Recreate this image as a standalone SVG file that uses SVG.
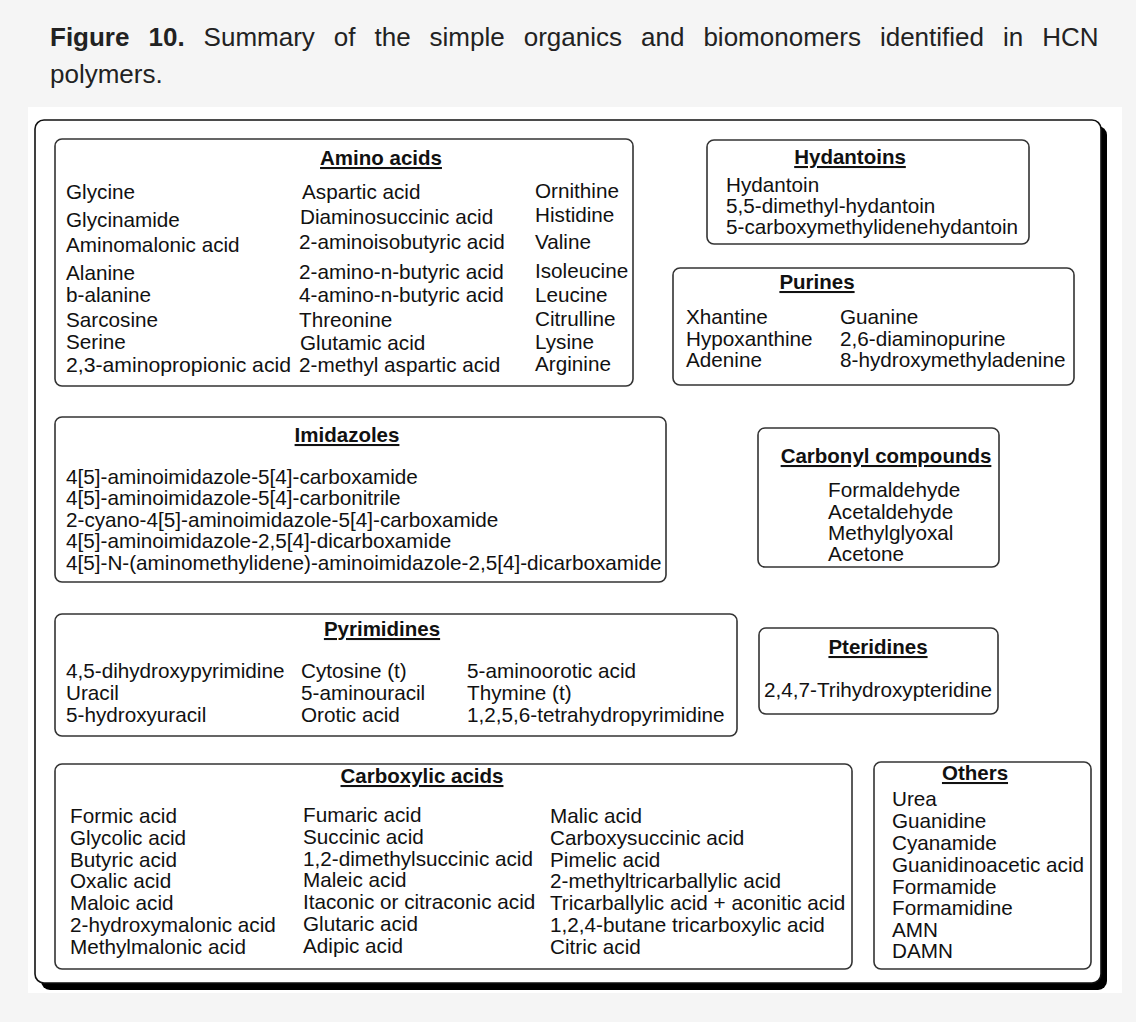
<svg xmlns="http://www.w3.org/2000/svg" width="1136" height="1022" viewBox="0 0 1136 1022">
  <style>
    .cap { font-family: "Liberation Sans", Arial, sans-serif; font-size: 26px; fill: #222; }
    .capb { font-weight: bold; }
    .t { font-family: "Liberation Sans", Arial, sans-serif; font-size: 20.7px; fill: #111; }
    .h { font-family: "Liberation Sans", Arial, sans-serif; font-size: 20.5px; font-weight: bold; fill: #111; text-anchor: middle; text-decoration: underline; }
    .box { fill: #fff; stroke: #333; stroke-width: 1.6; }
  </style>

  <!-- page background and white figure panel -->
  <rect x="0" y="0" width="1136" height="1022" fill="#f5f5f5"/>
  <rect x="28" y="107" width="1094" height="886" fill="#fff"/>

  <!-- caption, words spread to a justified line -->
  <g id="caption">
    <text class="cap" y="46">
      <tspan x="50" class="capb">Figure</tspan><tspan x="148.5" class="capb">10.</tspan><tspan x="203.6">Summary</tspan><tspan x="333.8">of</tspan><tspan x="374.5">the</tspan><tspan x="429.6">simple</tspan><tspan x="523.7">organics</tspan><tspan x="641">and</tspan><tspan x="703.4">biomonomers</tspan><tspan x="879.9">identified</tspan><tspan x="1003">in</tspan><tspan x="1042.2">HCN</tspan>
    </text>
    <text class="cap" x="50" y="83">polymers.</text>
  </g>

  <!-- outer frame with drop shadow -->
  <g id="frame">
    <rect x="41" y="126" width="1066" height="864" rx="9" fill="#000"/>
    <rect x="35" y="120" width="1066" height="863" rx="9" fill="#fff" stroke="#111" stroke-width="1.6"/>
  </g>

  <g id="amino-acids">
    <rect class="box" x="55" y="139" width="578" height="247" rx="7"/>
    <text class="h" x="381" y="165">Amino acids</text>
    <text class="t">
      <tspan x="66" y="199">Glycine</tspan>
      <tspan x="66" y="227">Glycinamide</tspan>
      <tspan x="66" y="252">Aminomalonic acid</tspan>
      <tspan x="66" y="280">Alanine</tspan>
      <tspan x="66" y="302">b-alanine</tspan>
      <tspan x="66" y="327">Sarcosine</tspan>
      <tspan x="66" y="349">Serine</tspan>
    </text>
    <text class="t" x="66" y="372" textLength="225" lengthAdjust="spacingAndGlyphs">2,3-aminopropionic acid</text>
    <text class="t">
      <tspan x="302" y="199">Aspartic acid</tspan>
      <tspan x="300" y="224">Diaminosuccinic acid</tspan>
      <tspan x="299" y="249">2-aminoisobutyric acid</tspan>
      <tspan x="299" y="279">2-amino-n-butyric acid</tspan>
      <tspan x="299" y="302">4-amino-n-butyric acid</tspan>
      <tspan x="299" y="327">Threonine</tspan>
      <tspan x="300" y="350">Glutamic acid</tspan>
      <tspan x="299" y="372">2-methyl aspartic acid</tspan>
    </text>
    <text class="t">
      <tspan x="535" y="198">Ornithine</tspan>
      <tspan x="535" y="222">Histidine</tspan>
      <tspan x="535" y="249">Valine</tspan>
      <tspan x="535" y="278">Isoleucine</tspan>
      <tspan x="535" y="302">Leucine</tspan>
      <tspan x="535" y="326">Citrulline</tspan>
      <tspan x="535" y="349">Lysine</tspan>
      <tspan x="535" y="371">Arginine</tspan>
    </text>
  </g>

  <g id="hydantoins">
    <rect class="box" x="707" y="140" width="322" height="104" rx="7"/>
    <text class="h" x="850" y="164">Hydantoins</text>
    <text class="t">
      <tspan x="726" y="192">Hydantoin</tspan>
      <tspan x="726" y="213">5,5-dimethyl-hydantoin</tspan>
      <tspan x="726" y="234">5-carboxymethylidenehydantoin</tspan>
    </text>
  </g>

  <g id="purines">
    <rect class="box" x="673" y="268" width="401" height="117" rx="7"/>
    <text class="h" x="817" y="289">Purines</text>
    <text class="t">
      <tspan x="686" y="324">Xhantine</tspan>
      <tspan x="686" y="346">Hypoxanthine</tspan>
      <tspan x="686" y="367">Adenine</tspan>
    </text>
    <text class="t">
      <tspan x="840" y="324">Guanine</tspan>
      <tspan x="840" y="346">2,6-diaminopurine</tspan>
      <tspan x="840" y="367">8-hydroxymethyladenine</tspan>
    </text>
  </g>

  <g id="imidazoles">
    <rect class="box" x="55" y="417" width="611" height="165" rx="7"/>
    <text class="h" x="347" y="442">Imidazoles</text>
    <text class="t">
      <tspan x="66" y="484">4[5]-aminoimidazole-5[4]-carboxamide</tspan>
      <tspan x="66" y="505">4[5]-aminoimidazole-5[4]-carbonitrile</tspan>
      <tspan x="66" y="527">2-cyano-4[5]-aminoimidazole-5[4]-carboxamide</tspan>
      <tspan x="66" y="548">4[5]-aminoimidazole-2,5[4]-dicarboxamide</tspan>
      <tspan x="66" y="570">4[5]-N-(aminomethylidene)-aminoimidazole-2,5[4]-dicarboxamide</tspan>
    </text>
  </g>

  <g id="carbonyl-compounds">
    <rect class="box" x="758" y="428" width="241" height="139" rx="7"/>
    <text class="h" x="886" y="463">Carbonyl compounds</text>
    <text class="t">
      <tspan x="828" y="497">Formaldehyde</tspan>
      <tspan x="828" y="519">Acetaldehyde</tspan>
      <tspan x="828" y="540">Methylglyoxal</tspan>
      <tspan x="828" y="561">Acetone</tspan>
    </text>
  </g>

  <g id="pyrimidines">
    <rect class="box" x="55" y="614" width="682" height="122" rx="7"/>
    <text class="h" x="382" y="636">Pyrimidines</text>
    <text class="t">
      <tspan x="66" y="678">4,5-dihydroxypyrimidine</tspan>
      <tspan x="66" y="700">Uracil</tspan>
      <tspan x="66" y="722">5-hydroxyuracil</tspan>
    </text>
    <text class="t">
      <tspan x="301" y="678">Cytosine (t)</tspan>
      <tspan x="301" y="700">5-aminouracil</tspan>
      <tspan x="301" y="722">Orotic acid</tspan>
    </text>
    <text class="t">
      <tspan x="467" y="678">5-aminoorotic acid</tspan>
      <tspan x="467" y="700">Thymine (t)</tspan>
      <tspan x="467" y="722">1,2,5,6-tetrahydropyrimidine</tspan>
    </text>
  </g>

  <g id="pteridines">
    <rect class="box" x="759" y="628" width="239" height="86" rx="7"/>
    <text class="h" x="878" y="654">Pteridines</text>
    <text class="t" x="764" y="697">2,4,7-Trihydroxypteridine</text>
  </g>

  <g id="carboxylic-acids">
    <rect class="box" x="55" y="764" width="797" height="205" rx="7"/>
    <text class="h" x="422" y="783">Carboxylic acids</text>
    <text class="t">
      <tspan x="70" y="823">Formic acid</tspan>
      <tspan x="70" y="845">Glycolic acid</tspan>
      <tspan x="70" y="867">Butyric acid</tspan>
      <tspan x="70" y="888">Oxalic acid</tspan>
      <tspan x="70" y="910">Maloic acid</tspan>
      <tspan x="70" y="932">2-hydroxymalonic acid</tspan>
      <tspan x="70" y="954">Methylmalonic acid</tspan>
    </text>
    <text class="t">
      <tspan x="303" y="822">Fumaric acid</tspan>
      <tspan x="303" y="844">Succinic acid</tspan>
      <tspan x="303" y="866">1,2-dimethylsuccinic acid</tspan>
      <tspan x="303" y="887">Maleic acid</tspan>
      <tspan x="303" y="909">Itaconic or citraconic acid</tspan>
      <tspan x="303" y="931">Glutaric acid</tspan>
      <tspan x="303" y="953">Adipic acid</tspan>
    </text>
    <text class="t">
      <tspan x="550" y="823">Malic acid</tspan>
      <tspan x="550" y="845">Carboxysuccinic acid</tspan>
      <tspan x="550" y="867">Pimelic acid</tspan>
      <tspan x="550" y="888">2-methyltricarballylic acid</tspan>
      <tspan x="550" y="910">Tricarballylic acid + aconitic acid</tspan>
      <tspan x="550" y="932">1,2,4-butane tricarboxylic acid</tspan>
      <tspan x="550" y="954">Citric acid</tspan>
    </text>
  </g>

  <g id="others">
    <rect class="box" x="874" y="762" width="217" height="207" rx="7"/>
    <text class="h" x="975" y="780">Others</text>
    <text class="t">
      <tspan x="892" y="806">Urea</tspan>
      <tspan x="892" y="828">Guanidine</tspan>
      <tspan x="892" y="850">Cyanamide</tspan>
      <tspan x="892" y="872">Guanidinoacetic acid</tspan>
      <tspan x="892" y="894">Formamide</tspan>
      <tspan x="892" y="915">Formamidine</tspan>
      <tspan x="892" y="937">AMN</tspan>
      <tspan x="892" y="958">DAMN</tspan>
    </text>
  </g>
</svg>
